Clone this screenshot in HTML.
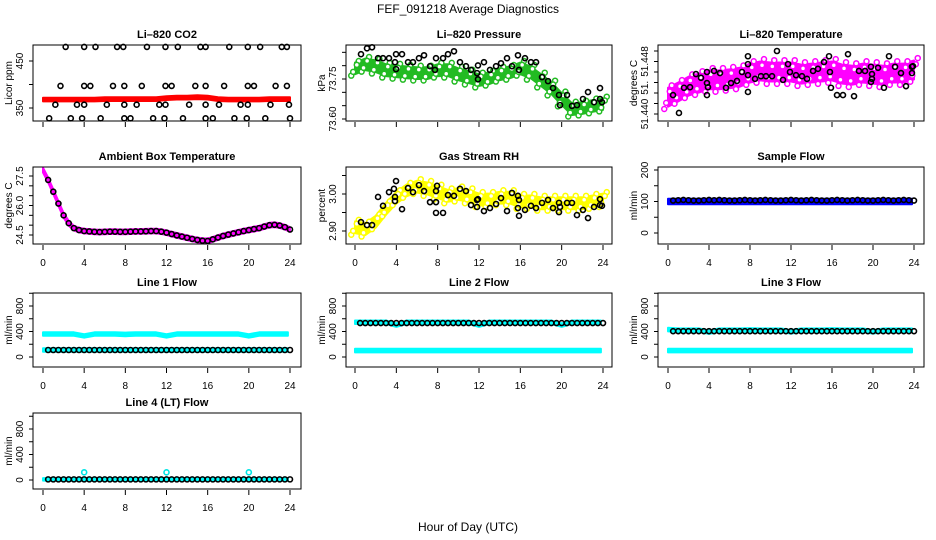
<!DOCTYPE html>
<html><head><meta charset="utf-8"><title>FEF_091218 Average Diagnostics</title>
<style>
html,body{margin:0;padding:0;background:#fff;}
svg{display:block;font-family:"Liberation Sans",Arial,sans-serif;}
.ttl{font-size:11px;font-weight:bold;text-anchor:middle;}
.tk{font-size:10px;text-anchor:middle;}
.yl{font-size:10px;text-anchor:middle;}
</style></head>
<body>
<svg id="chart" width="936" height="540" viewBox="0 0 936 540" xmlns="http://www.w3.org/2000/svg">
<rect x="0" y="0" width="936" height="540" fill="#fff"/>
<text x="468" y="13" font-size="12" text-anchor="middle">FEF_091218  Average Diagnostics</text>
<text x="468" y="531" font-size="12" text-anchor="middle">Hour of Day (UTC)</text>
</svg>
<script>
// ---------- data ----------
const xTicks = [0,4,8,12,16,20,24];
const xTickLabels = ["0","4","8","12","16","20","24"];
const H25 = [0,1,2,3,4,5,6,7,8,9,10,11,12,13,14,15,16,17,18,19,20,21,22,23,24];
const H25f = [0,1,2,3,4,5,6,7,8,9,10,11,12,13,14,15,16,17,18,19,20,21,22,23,23.8];
const H49 = [0,0.5,1,1.5,2,2.5,3,3.5,4,4.5,5,5.5,6,6.5,7,7.5,8,8.5,9,9.5,10,10.5,11,11.5,12,12.5,13,13.5,14,14.5,15,15.5,16,16.5,17,17.5,18,18.5,19,19.5,20,20.5,21,21.5,22,22.5,23,23.5,24];
const H48 = [0.5,1,1.5,2,2.5,3,3.5,4,4.5,5,5.5,6,6.5,7,7.5,8,8.5,9,9.5,10,10.5,11,11.5,12,12.5,13,13.5,14,14.5,15,15.5,16,16.5,17,17.5,18,18.5,19,19.5,20,20.5,21,21.5,22,22.5,23,23.5,24];

// CO2
const co2Red = [368,368,368,368,368,368,369,369,369,369,369,369,371,372,372,373,372,369,368,368,368,368,369,369,369];
const co2BlackX = [2.2,4.0,5.1,7.2,7.8,10.1,11.9,13.1,15.3,15.8,18.1,19.9,21.1,23.2,23.7,
 1.7,4.0,4.6,6.8,7.9,9.6,11.9,12.5,14.8,15.8,17.6,19.9,20.5,22.6,23.7,
 1.2,3.3,4.0,6.2,7.9,9.1,11.3,11.9,14.2,15.8,17.1,19.2,19.9,22.1,23.9,
 0.6,2.7,3.8,5.6,7.9,8.5,10.7,11.8,13.6,15.8,16.5,18.6,19.8,21.6,24];
const co2BlackY = [480,480,480,480,480,480,480,480,480,480,480,480,480,480,480,
 397,397,397,397,397,397,397,397,397,397,397,397,397,397,397,
 357,357,357,357,357,357,357,357,357,357,357,357,357,357,357,
 328,328,328,328,328,328,328,328,328,328,328,328,328,328,328];
const co2Ticks = [350,400,450];
const co2TickLabels = ["350","","450"];

// Pressure
const pressGreen = [73.790,73.805,73.798,73.783,73.779,73.775,73.772,73.772,73.783,73.783,73.768,73.757,73.746,73.753,73.768,73.775,73.790,73.775,73.746,73.716,73.675,73.637,73.641,73.649,73.656];
const pressBlackX = [0.58,1.16,1.65,2.23,2.71,3.29,3.87,3.97,3.97,4.55,5.13,5.61,6.19,6.68,7.26,7.74,7.84,8.52,9.0,9.58,10.16,10.74,11.23,11.81,11.9,11.9,12.48,13.06,13.65,14.13,14.71,15.19,15.77,15.87,16.45,17.03,17.52,18.1,18.68,19.16,19.74,19.84,20.52,21.0,21.48,22.06,22.55,23.13,23.71,23.71,23.9];
const pressBlackY = [73.843,73.865,73.869,73.828,73.828,73.828,73.813,73.787,73.843,73.843,73.813,73.813,73.828,73.839,73.798,73.784,73.828,73.828,73.843,73.854,73.813,73.798,73.784,73.772,73.801,73.749,73.813,73.784,73.798,73.809,73.828,73.798,73.839,73.784,73.828,73.813,73.813,73.757,73.742,73.716,73.690,73.652,73.690,73.649,73.652,73.675,73.701,73.663,73.716,73.675,73.663];
const pressTicks = [73.60,73.65,73.70,73.75,73.80,73.85];
const pressTickLabels = ["73.60","","","73.75","",""];

// Li-820 temperature
const tempMag = [51.4432,51.4442,51.4453,51.4459,51.4465,51.4465,51.4467,51.4470,51.4478,51.4482,51.4480,51.4480,51.4480,51.4476,51.4478,51.4480,51.4482,51.4476,51.4474,51.4478,51.4476,51.4474,51.4478,51.4478,51.4484];
const tempBlackX = [0.49,1.07,1.56,2.15,2.73,3.22,3.80,3.80,3.90,3.80,4.49,5.07,5.66,6.15,6.73,7.22,7.80,7.80,7.80,7.80,8.49,9.07,9.56,10.15,10.63,11.22,11.71,11.90,12.49,13.07,13.56,14.15,14.63,15.22,15.71,15.80,15.90,16.49,17.07,17.56,18.15,18.63,19.22,19.80,19.90,19.90,19.80,20.49,21.07,21.56,22.15,22.73,23.22,23.80,23.80,23.90];
const tempBlackY = [51.4436,51.4402,51.4450,51.4451,51.4476,51.4469,51.4480,51.4459,51.4451,51.4436,51.4482,51.4478,51.4450,51.4459,51.4463,51.4480,51.4474,51.4442,51.4495,51.4510,51.4467,51.4472,51.4472,51.4472,51.4520,51.4465,51.4495,51.4480,51.4474,51.4472,51.4467,51.4482,51.4486,51.4499,51.4510,51.4480,51.4450,51.4436,51.4436,51.4514,51.4434,51.4482,51.4482,51.4490,51.4476,51.4467,51.4461,51.4488,51.4450,51.4510,51.4490,51.4478,51.4453,51.4478,51.4490,51.4491];
const tempTicks = [51.440,51.442,51.444,51.446,51.448,51.450,51.452];
const tempLabelVals = [51.440,51.445,51.450];
const tempTickLabels = ["51.440","51.","51.448"];

// Ambient box temperature
const ambient = [27.8,27.3,26.7,26.1,25.5,25.1,24.85,24.75,24.7,24.68,24.66,24.65,24.66,24.67,24.67,24.66,24.66,24.67,24.68,24.68,24.69,24.7,24.7,24.67,24.62,24.55,24.48,24.42,24.36,24.3,24.25,24.21,24.2,24.28,24.37,24.45,24.52,24.58,24.64,24.7,24.75,24.8,24.85,24.93,25.0,25.02,24.98,24.9,24.78];
const ambTicks = [24.5,25.0,25.5,26.0,26.5,27.0,27.5];
const ambTickLabels = ["24.5","","","26.0","","","27.5"];

// Gas stream RH
const rhYellow = [2.91,2.905,2.925,2.96,2.99,3.01,3.02,3.015,3.005,2.995,3.0,2.995,2.985,2.985,2.99,2.99,2.98,2.98,2.975,2.975,2.975,2.975,2.975,2.98,2.985];
const rhBlackX = [0.58,1.16,1.65,2.23,2.71,3.29,3.77,3.87,3.87,3.97,4.55,5.13,5.61,6.19,6.68,7.26,7.84,7.84,7.84,7.94,8.52,9.0,9.58,10.16,10.74,11.23,11.81,11.81,11.9,12.48,13.06,13.65,14.13,14.71,15.19,15.77,15.77,15.87,15.87,16.45,17.03,17.52,18.1,18.68,19.16,19.74,19.74,19.84,20.52,21.0,21.48,22.06,22.55,23.13,23.71,23.71,23.9];
const rhBlackY = [2.924,2.916,2.916,2.992,2.968,3.005,3.014,2.992,2.981,3.035,2.959,3.016,3.005,3.024,3.008,2.978,2.978,2.949,3.008,3.022,2.949,2.997,2.995,3.014,3.008,2.970,2.984,2.965,2.986,2.954,2.962,2.973,2.989,2.954,3.003,2.995,2.962,2.941,2.984,2.957,2.968,2.962,2.976,2.984,2.962,2.976,2.951,2.965,2.976,2.976,2.943,2.957,2.935,2.965,2.970,2.986,2.968];
const rhTicks = [2.90,2.95,3.00,3.05];
const rhTickLabels = ["2.90","","3.00",""];

// Sample flow
const sampleBlue = [100,100,100,100,100,100,100,100,100,100,100,100,100,100,100,100,100,100,100,100,100,100,100,100,100];
const sampleBlack = [103,104,105,104,103,103,104,105,104,105,104,103,103,104,105,104,103,104,105,104,103,103,104,105,104,103,104,105,104,103,103,104,105,104,103,104,105,104,103,103,104,105,104,103,104,105,104,103];
const sampleTicks = [0,50,100,150,200];
const sampleTickLabels = ["0","","100","","200"];

// Line flows
const flowTicks = [0,200,400,600,800,1000];
const flowTickLabels = ["0","","400","","800",""];
const line1CyanHi = [360,360,360,360,330,360,360,360,355,360,360,360,330,360,360,360,360,360,360,360,330,360,360,360,360];
const line1CyanLo = [110,110,110,110,110,110,110,110,110,110,110,110,110,110,110,110,110,110,110,110,110,110,110,110,110];
const line1Black = [110,110,110,110,110,110,110,110,110,110,110,110,110,110,110,110,110,110,110,110,110,110,110,110,110,110,110,110,110,110,110,110,110,110,110,110,110,110,110,110,110,110,110,110,110,110,110,110];
const line2CyanHi = [545,545,545,545,500,545,545,545,545,545,545,545,500,545,545,545,545,545,545,545,500,545,545,545,545];
const line2CyanLo = [100,100,100,100,100,100,100,100,100,100,100,100,100,100,100,100,100,100,100,100,100,100,100,100,100];
const line2Black = [533,533,533,533,533,533,533,533,533,533,533,533,533,533,533,533,533,533,533,533,533,533,533,533,533,533,533,533,533,533,533,533,533,533,533,533,533,533,533,533,533,533,533,533,533,533,533,533];
const line3CyanHi = [430,420,420,420,390,420,420,420,425,420,420,420,395,420,420,420,425,420,420,420,395,420,420,420,420];
const line3CyanLo = [100,100,100,100,100,100,100,100,100,100,100,100,100,100,100,100,100,100,100,100,100,100,100,100,100];
const line3Black = [405,405,405,405,405,405,405,405,405,405,405,405,405,405,405,405,405,405,405,405,405,405,405,405,405,405,405,405,405,405,405,405,405,405,405,405,405,405,405,405,405,405,405,405,405,405,405,405];
const line4Cyan = [10,10,10,10,10,10,10,10,10,10,10,10,10,10,10,10,10,10,10,10,10,10,10,10,10];
const line4SpikeX = [4,12,20];
const line4SpikeY = [120,120,120];
const line4Black = [10,10,10,10,10,10,10,10,10,10,10,10,10,10,10,10,10,10,10,10,10,10,10,10,10,10,10,10,10,10,10,10,10,10,10,10,10,10,10,10,10,10,10,10,10,10,10,10];

// ---------- drawing ----------
const NS = "http://www.w3.org/2000/svg";
const svg = document.getElementById('chart');
const COLS = [{l:33,r:301,x0:43,x24:290},{l:346,r:612,x0:355,x24:603},{l:658,r:924,x0:668,x24:914}];
const ROWS = [{t:45,b:121},{t:167,b:244},{t:293,b:367},{t:413,b:489}];

function mk(tag, attrs, parent){
  const e = document.createElementNS(NS, tag);
  for (const k in attrs) e.setAttribute(k, attrs[k]);
  (parent||svg).appendChild(e);
  return e;
}
function panel(name, col, row, title, ylab, ya, ticks, tickLabels, labelVals, showX){
  const C = COLS[col], R = ROWS[row];
  const g = mk('g', {});
  
  
  const xs = h => C.x0 + (C.x24 - C.x0) * h / 24;
  const ys = v => ya.y1 + (v - ya.v1) * (ya.y2 - ya.y1) / (ya.v2 - ya.v1);
  const plot = mk('g', {}, g);
  
  
  const fr = mk('rect', {x:C.l, y:R.t, width:C.r-C.l, height:R.b-R.t, fill:'none', stroke:'#000', 'stroke-width':1}, g);
  
  
  const t = mk('text', {x:(C.l+C.r)/2, y:R.t-7, class:'ttl'}, g);
  t.textContent = title;
  
  
  // x axis
  const xa = mk('g', {}, g);
  
  
  xTicks.forEach((h,i) => {
    mk('line', {x1:xs(h), x2:xs(h), y1:R.b+1, y2:R.b+6, stroke:'#000'}, xa);
    if (showX) {
      const tx = mk('text', {x:xs(h), y:R.b+22, class:'tk'}, xa);
      tx.textContent = xTickLabels[i];
    }
  });
  // y axis
  const yaG = mk('g', {}, g);
  
  
  const ax = C.l;
  ticks.forEach(v => mk('line', {x1:ax-4, x2:ax, y1:ys(v), y2:ys(v), stroke:'#000'}, yaG));
  const lv = labelVals || ticks;
  lv.forEach((v,i) => {
    if (!tickLabels[i]) return;
    const y = ys(v), x = ax - 10;
    const tx = mk('text', {x:x, y:y, class:'tk', transform:`rotate(-90 ${x} ${y})`}, yaG);
    tx.textContent = tickLabels[i];
  });
  const yx = C.l - 21, yy = (R.t + R.b) / 2;
  const yt = mk('text', {x:yx, y:yy, class:'yl', transform:`rotate(-90 ${yx} ${yy})`}, g);
  yt.textContent = ylab;
  
  
  return {g:plot, xs, ys, R, C};
}
function band(P, name, hx, vals, spread, color, texture){
  const up = hx.map((h,i) => [P.xs(h), P.ys(vals[i] + spread)]);
  const lo = hx.map((h,i) => [P.xs(h), P.ys(vals[i] - spread)]).reverse();
  const pts = up.concat(lo).map(p => p[0].toFixed(1)+','+p[1].toFixed(1)).join(' ');
  const b = mk('polygon', {points:pts, fill:color, stroke:color, 'stroke-width':2, 'stroke-linejoin':'round'}, P.g);
  
  
  if (texture) {
    hx.forEach((h,i) => {
      [1.25, -1.25, 0.6, -0.6].forEach(f => {
        const c = mk('circle', {cx:P.xs(h) + f*3, cy:P.ys(vals[i] + spread*f), r:2.5, fill:'#fff', stroke:color, 'stroke-width':1.5}, P.g);
        
        
      });
    });
  }
}
function pts(P, name, xsArr, ysArr, color){
  xsArr.forEach((h,i) => {
    const c = mk('circle', {cx:P.xs(h), cy:P.ys(ysArr[i]), r:2.5, fill:'none', stroke:color, 'stroke-width':1.6}, P.g);
    
    
  });
}

// Row 1
let P = panel('co2', 0, 0, 'Li\u2013820 CO2', 'Licor ppm', {v1:350,y1:108,v2:450,y2:61}, co2Ticks, co2TickLabels, null, false);
band(P, 'co2-red-series', H25, co2Red, 4, '#ff0000', false);
pts(P, 'co2-black-point', co2BlackX, co2BlackY, '#000');

P = panel('pressure', 1, 0, 'Li\u2013820 Pressure', 'kPa', {v1:73.60,y1:119,v2:73.75,y2:79}, pressTicks, pressTickLabels, null, false);
band(P, 'pressure-green-series', H25, pressGreen, 0.022, '#22bb22', true);
pts(P, 'pressure-black-point', pressBlackX, pressBlackY, '#000');

P = panel('temperature', 2, 0, 'Li\u2013820 Temperature', 'degrees C', {v1:51.440,y1:114,v2:51.450,y2:61.5}, tempTicks, tempTickLabels, tempLabelVals, false);
band(P, 'temperature-magenta-series', H25, tempMag, 0.0018, '#ff00ff', true);
pts(P, 'temperature-black-point', tempBlackX, tempBlackY, '#000');

// Row 2
P = panel('ambient', 0, 1, 'Ambient Box Temperature', 'degrees C', {v1:24.5,y1:235,v2:27.5,y2:176}, ambTicks, ambTickLabels, null, true);
band(P, 'ambient-magenta-series', H49, ambient, 0.12, '#ff00ff', false);
pts(P, 'ambient-black-point', H48, ambient.slice(1), '#000');

P = panel('rh', 1, 1, 'Gas Stream RH', 'percent', {v1:2.90,y1:231,v2:3.00,y2:194}, rhTicks, rhTickLabels, null, true);
band(P, 'rh-yellow-series', H25, rhYellow, 0.016, '#ffff00', true);
pts(P, 'rh-black-point', rhBlackX, rhBlackY, '#000');

P = panel('sample-flow', 2, 1, 'Sample Flow', 'ml/min', {v1:0,y1:233,v2:200,y2:170}, sampleTicks, sampleTickLabels, null, true);
band(P, 'sample-blue-series', H25f, sampleBlue, 9, '#0000ff', false);
pts(P, 'sample-black-point', H48, sampleBlack, '#000');

// Row 3
P = panel('line1', 0, 2, 'Line 1 Flow', 'ml/min', {v1:0,y1:357,v2:800,y2:306}, flowTicks, flowTickLabels, null, true);
band(P, 'line1-cyan-high', H25f, line1CyanHi, 28, '#00ffff', false);
band(P, 'line1-cyan-low', H25f, line1CyanLo, 28, '#00ffff', false);
pts(P, 'line1-black-point', H48, line1Black, '#000');

P = panel('line2', 1, 2, 'Line 2 Flow', 'ml/min', {v1:0,y1:357,v2:800,y2:306}, flowTicks, flowTickLabels, null, true);
band(P, 'line2-cyan-high', H25f, line2CyanHi, 28, '#00ffff', false);
band(P, 'line2-cyan-low', H25f, line2CyanLo, 28, '#00ffff', false);
pts(P, 'line2-black-point', H48, line2Black, '#000');

P = panel('line3', 2, 2, 'Line 3 Flow', 'ml/min', {v1:0,y1:357,v2:800,y2:306}, flowTicks, flowTickLabels, null, true);
band(P, 'line3-cyan-high', H25f, line3CyanHi, 28, '#00ffff', false);
band(P, 'line3-cyan-low', H25f, line3CyanLo, 28, '#00ffff', false);
pts(P, 'line3-black-point', H48, line3Black, '#000');

// Row 4
P = panel('line4', 0, 3, 'Line 4 (LT) Flow', 'ml/min', {v1:0,y1:480,v2:800,y2:429}, flowTicks, flowTickLabels, null, true);
band(P, 'line4-cyan-series', H25f, line4Cyan, 20, '#00ffff', false);
pts(P, 'line4-cyan-spike', line4SpikeX, line4SpikeY, '#00e5e5');
pts(P, 'line4-black-point', H48, line4Black, '#000');
</script>
</body></html>
